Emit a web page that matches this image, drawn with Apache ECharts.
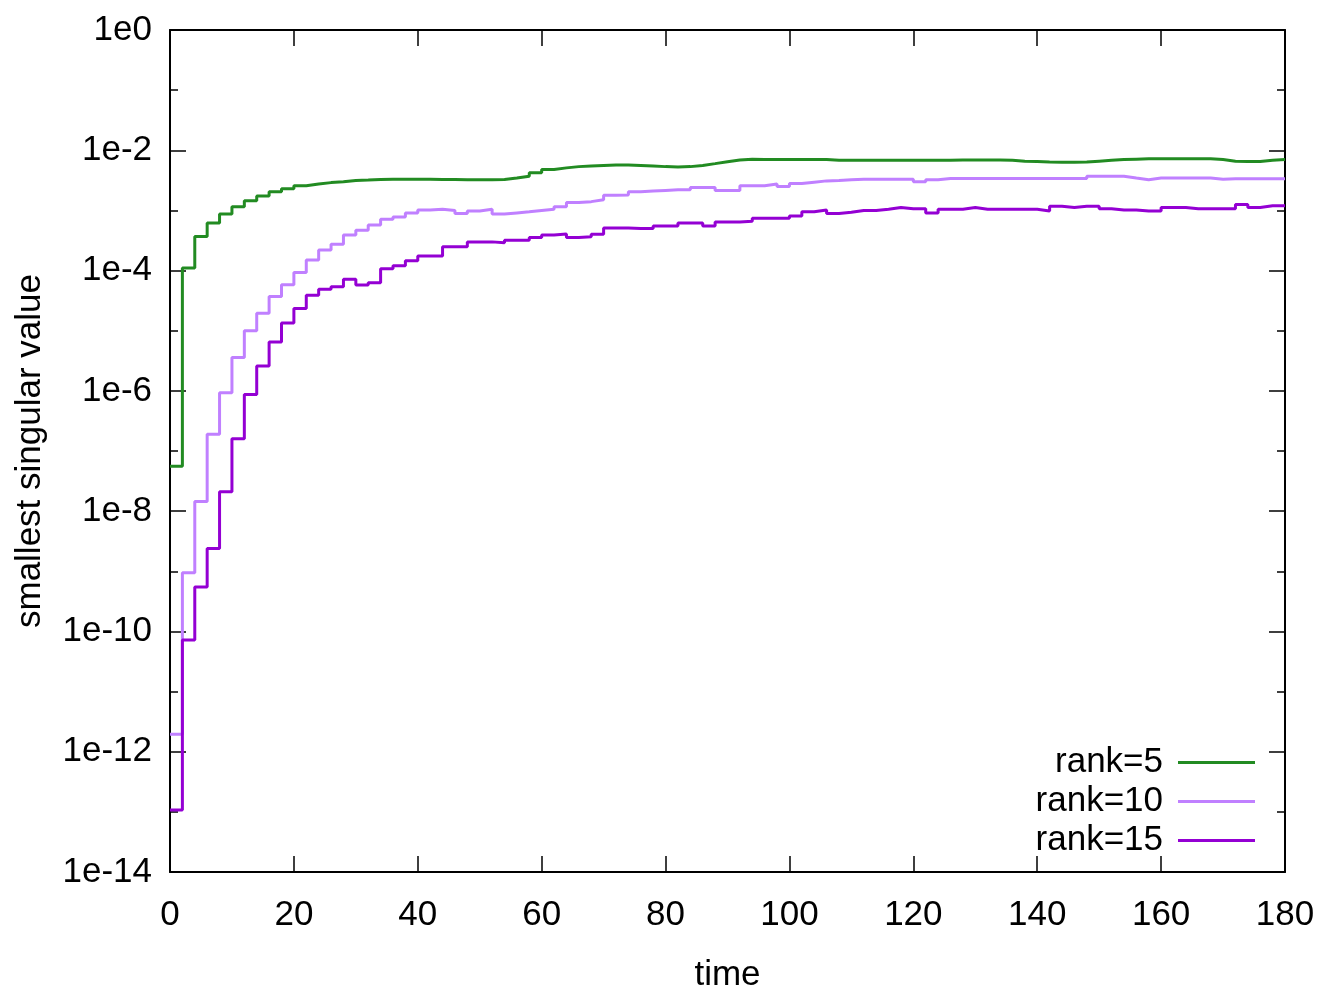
<!DOCTYPE html>
<html>
<head>
<meta charset="utf-8">
<script src="https://cdn.jsdelivr.net/npm/echarts@6/dist/echarts.min.js"></script>
<style>
  html, body { margin: 0; padding: 0; background: #fff; }
  #chart { width: 1334px; height: 1000px; }
</style>
</head>
<body>
<div id="chart"></div>
<script>
// time points (steps every 2 time units)
const times = [
  0, 2, 4, 6, 8, 10, 12, 14, 16, 18,
  20, 22, 24, 26, 28, 30, 32, 34, 36, 38,
  40, 42, 44, 46, 48, 50, 52, 54, 56, 58,
  60, 62, 64, 66, 68, 70, 72, 74, 76, 78,
  80, 82, 84, 86, 88, 90, 92, 94, 96, 98,
  100, 102, 104, 106, 108, 110, 112, 114, 116, 118,
  120, 122, 124, 126, 128, 130, 132, 134, 136, 138,
  140, 142, 144, 146, 148, 150, 152, 154, 156, 158,
  160, 162, 164, 166, 168, 170, 172, 174, 176, 178,
  180
]

const rank5 = [
  5.6e-8, 1.1e-4, 3.7e-4, 6.2e-4, 8.7e-4, 1.15e-3, 1.45e-3, 1.74e-3, 2.04e-3, 2.3e-3,
  2.57e-3, 2.75e-3, 2.9e-3, 3.0e-3, 3.15e-3, 3.2e-3, 3.27e-3, 3.3e-3, 3.3e-3, 3.3e-3,
  3.3e-3, 3.28e-3, 3.27e-3, 3.25e-3, 3.25e-3, 3.25e-3, 3.27e-3, 3.45e-3, 3.7e-3, 4.25e-3,
  4.8e-3, 5.1e-3, 5.35e-3, 5.5e-3, 5.6e-3, 5.7e-3, 5.7e-3, 5.6e-3, 5.5e-3, 5.35e-3,
  5.25e-3, 5.35e-3, 5.6e-3, 6.0e-3, 6.45e-3, 6.9e-3, 7.1e-3, 7.0e-3, 7.0e-3, 7.0e-3,
  7.0e-3, 7.0e-3, 7.0e-3, 6.8e-3, 6.8e-3, 6.8e-3, 6.8e-3, 6.8e-3, 6.8e-3, 6.8e-3,
  6.8e-3, 6.8e-3, 6.8e-3, 6.9e-3, 6.9e-3, 6.9e-3, 6.9e-3, 6.8e-3, 6.6e-3, 6.5e-3,
  6.4e-3, 6.35e-3, 6.35e-3, 6.4e-3, 6.6e-3, 6.8e-3, 7.0e-3, 7.1e-3, 7.2e-3, 7.2e-3,
  7.2e-3, 7.2e-3, 7.2e-3, 7.2e-3, 7.0e-3, 6.6e-3, 6.5e-3, 6.5e-3, 6.8e-3, 7.0e-3,
  7.0e-3
]

const rank10 = [
  1.95e-12, 9.5e-10, 1.45e-8, 1.9e-7, 9.3e-7, 3.6e-6, 1.0e-5, 1.95e-5, 3.7e-5, 5.8e-5,
  9.3e-5, 1.5e-4, 2.2e-4, 2.75e-4, 3.9e-4, 4.7e-4, 5.75e-4, 7.1e-4, 7.8e-4, 9.1e-4,
  1.02e-3, 1.05e-3, 1.0e-3, 8.9e-4, 9.8e-4, 1.05e-3, 8.7e-4, 9.1e-4, 9.5e-4, 1.0e-3,
  1.05e-3, 1.15e-3, 1.35e-3, 1.4e-3, 1.5e-3, 1.78e-3, 1.8e-3, 2.04e-3, 2.1e-3, 2.15e-3,
  2.2e-3, 2.2e-3, 2.4e-3, 2.4e-3, 2.15e-3, 2.15e-3, 2.57e-3, 2.57e-3, 2.75e-3, 2.5e-3,
  2.8e-3, 2.95e-3, 3.1e-3, 3.15e-3, 3.25e-3, 3.3e-3, 3.3e-3, 3.3e-3, 3.3e-3, 3.3e-3,
  3.0e-3, 3.25e-3, 3.4e-3, 3.4e-3, 3.4e-3, 3.4e-3, 3.4e-3, 3.4e-3, 3.4e-3, 3.4e-3,
  3.4e-3, 3.4e-3, 3.4e-3, 3.4e-3, 3.7e-3, 3.7e-3, 3.7e-3, 3.45e-3, 3.25e-3, 3.45e-3,
  3.45e-3, 3.45e-3, 3.45e-3, 3.45e-3, 3.3e-3, 3.35e-3, 3.35e-3, 3.35e-3, 3.35e-3, 3.35e-3,
  3.35e-3
]

const rank15 = [
  1.07e-13, 7.2e-11, 5.5e-10, 2.4e-9, 2.1e-8, 1.6e-7, 8.7e-7, 2.6e-6, 6.5e-6, 1.35e-5,
  2.35e-5, 3.9e-5, 4.9e-5, 5.4e-5, 7.2e-5, 5.75e-5, 6.3e-5, 1.07e-4, 1.2e-4, 1.45e-4,
  1.75e-4, 1.75e-4, 2.5e-4, 2.5e-4, 3.0e-4, 3.0e-4, 2.9e-4, 3.2e-4, 3.2e-4, 3.55e-4,
  3.9e-4, 4.05e-4, 3.55e-4, 3.65e-4, 4.0e-4, 5.1e-4, 5.1e-4, 5.0e-4, 5.0e-4, 5.5e-4,
  5.5e-4, 6.2e-4, 6.2e-4, 5.5e-4, 6.4e-4, 6.4e-4, 6.6e-4, 7.4e-4, 7.4e-4, 7.4e-4,
  8.1e-4, 9.5e-4, 1.02e-3, 8.9e-4, 9.3e-4, 1.0e-3, 1.0e-3, 1.05e-3, 1.12e-3, 1.07e-3,
  1.07e-3, 9.1e-4, 1.05e-3, 1.05e-3, 1.12e-3, 1.05e-3, 1.05e-3, 1.05e-3, 1.05e-3, 1.05e-3,
  9.8e-4, 1.17e-3, 1.12e-3, 1.17e-3, 1.17e-3, 1.07e-3, 1.02e-3, 1.02e-3, 9.8e-4, 9.8e-4,
  1.12e-3, 1.12e-3, 1.07e-3, 1.07e-3, 1.07e-3, 1.07e-3, 1.26e-3, 1.12e-3, 1.2e-3, 1.2e-3,
  1.2e-3
]

const seriesNames = ['rank=5', 'rank=10', 'rank=15']
const seriesColors = ['#228b22', '#c080ff', '#9400d3']
const seriesValues = [rank5, rank10, rank15]

const FONT = '"Liberation Sans", Arial, Helvetica, sans-serif'
const FS = 35

// y axis is drawn in decades (log10 of the value)
function toPairs(vals) {
  return times.map((t, i) => [t, Math.log10(vals[i])])
}

function axisLine() {
  return { show: true, onZero: false, lineStyle: { color: '#000', width: 2 } }
}
function majorTick() {
  return { show: true, inside: true, length: 16, lineStyle: { color: '#000', width: 1.5 } }
}
function minorTick() {
  return { show: true, splitNumber: 2, length: 8, lineStyle: { color: '#000', width: 1.5 } }
}

let myChart = echarts.init(document.getElementById('chart'), null, { renderer: 'canvas' })
myChart.setOption({
  animation: false,
  backgroundColor: '#fff',
  textStyle: { fontFamily: FONT },
  grid: { left: 170, right: 49, top: 30, bottom: 128, show: false },
  legend: {
    right: 79,
    top: 743,
    orient: 'vertical',
    align: 'right',
    icon: 'rect',
    itemWidth: 77,
    itemHeight: 3,
    itemGap: 0,
    padding: 0,
    data: seriesNames,
    formatter: '{a|{name}}',
    textStyle: {
      color: '#000',
      fontFamily: FONT,
      fontSize: FS,
      lineHeight: 39,
      rich: {
        a: { width: 150, align: 'right', fontSize: FS, fontFamily: FONT, color: '#000', lineHeight: 39, padding: [0, 10, 0, 0] }
      }
    }
  },
  xAxis: [
    {
      type: 'value', position: 'bottom', min: 0, max: 180, interval: 20,
      name: 'time', nameLocation: 'middle', nameGap: 86,
      nameTextStyle: { color: '#000', fontSize: FS, fontFamily: FONT },
      axisLine: axisLine(), axisTick: majorTick(),
      axisLabel: { color: '#000', fontSize: FS, fontFamily: FONT, margin: 26 },
      splitLine: { show: false }
    },
    {
      type: 'value', position: 'top', min: 0, max: 180, interval: 20,
      axisLine: axisLine(), axisTick: majorTick(),
      axisLabel: { show: false }, splitLine: { show: false }
    }
  ],
  yAxis: [
    {
      type: 'value', position: 'left', min: -14, max: 0, interval: 2,
      name: 'smallest singular value', nameLocation: 'middle', nameGap: 122,
      nameTextStyle: { color: '#000', fontSize: FS, fontFamily: FONT },
      axisLine: axisLine(), axisTick: majorTick(), minorTick: minorTick(),
      axisLabel: { color: '#000', fontSize: FS, fontFamily: FONT, margin: 18, formatter: v => '1e' + v },
      splitLine: { show: false }
    },
    {
      type: 'value', position: 'right', min: -14, max: 0, interval: 2,
      axisLine: axisLine(), axisTick: majorTick(), minorTick: minorTick(),
      axisLabel: { show: false }, splitLine: { show: false }
    }
  ],
  series: seriesNames.map((name, i) => ({
    name: name,
    type: 'line',
    step: 'end',
    showSymbol: false,
    symbol: 'none',
    color: seriesColors[i],
    lineStyle: { color: seriesColors[i], width: 3 },
    data: toPairs(seriesValues[i])
  }))
})
</script>
</body>
</html>
